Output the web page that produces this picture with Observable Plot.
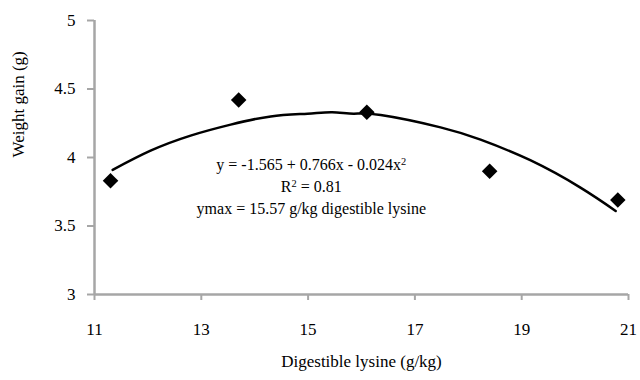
<!DOCTYPE html>
<html lang="en">
<head>
<meta charset="utf-8">
<script src="https://cdn.jsdelivr.net/npm/d3@7"></script>
<script src="https://cdn.jsdelivr.net/npm/@observablehq/plot@0.6"></script>
<style>
  html, body { margin: 0; padding: 0; background: #ffffff; }
</style>
</head>
<body>
<div id="chart"></div>
<script>
// Observed data points
const lysine = [11.3, 13.7, 16.1, 18.4, 20.8];
const weightGain = [3.83, 4.42, 4.33, 3.90, 3.69];

// Trend line
const curveX = [11.34, 12.05, 12.80, 13.55, 14.30, 14.99, 15.45, 15.85, 16.36, 17.48, 18.23, 19.16, 20.10, 20.76];
const curveY = [3.91, 4.05, 4.16, 4.24, 4.30, 4.32, 4.33, 4.32, 4.31, 4.22, 4.13, 3.98, 3.78, 3.61];

// Tick labels
const xTicks = [11, 13, 15, 17, 19, 21];
const yTicks = [3, 3.5, 4, 4.5, 5];

// Texts ("^2" is drawn as a superscript 2)
const xTitle = "Digestible lysine (g/kg)";
const yTitle = "Weight gain (g)";
const annotationLines = [
  "y = -1.565 + 0.766x - 0.024x^2",
  "R^2 = 0.81",
  "ymax = 15.57 g/kg digestible lysine"
];
const annotationAt = {x: 15.06, y: 3.796};

const points = lysine.map((x, i) => ({x, y: weightGain[i]}));
const curve = curveX.map((x, i) => ({x, y: curveY[i]}));

const axisGray = "#a6a6a6";

const svg = Plot.plot({
  width: 640,
  height: 380,
  marginLeft: 94,
  marginRight: 12,
  marginTop: 20,
  marginBottom: 86,
  style: {fontFamily: "Liberation Serif", fontSize: "17px"},
  x: {domain: [11, 21]},
  y: {domain: [3, 5]},
  marks: [
    Plot.axisX({ticks: xTicks, tickSize: 6, tickPadding: 22, stroke: axisGray, strokeWidth: 2, fill: "#000", label: null, tickFormat: d => String(d)}),
    Plot.axisY({ticks: yTicks, tickSize: 7, tickPadding: 12, stroke: axisGray, strokeWidth: 2, fill: "#000", label: null, tickFormat: d => String(d)}),
    Plot.ruleX([11], {stroke: axisGray, strokeWidth: 2.5}),
    Plot.ruleY([3], {stroke: axisGray, strokeWidth: 2.5}),
    Plot.line(curve, {x: "x", y: "y", curve: "natural", stroke: "#000", strokeWidth: 2.5}),
    Plot.dot(points, {x: "x", y: "y", symbol: "diamond2", r: 7, fill: "#000", stroke: "none"}),
    Plot.text([annotationLines.join("\n")], {x: () => annotationAt.x, y: () => annotationAt.y, text: d => d, lineHeight: 1.375, fontSize: 16, fill: "#000", textAnchor: "middle"}),
    Plot.text([xTitle], {text: d => d, frameAnchor: "bottom", dy: 72, fill: "#000"}),
    Plot.text([yTitle], {text: d => d, frameAnchor: "left", dx: -76, rotate: -90, fill: "#000"})
  ]
});

// Turn "^2" markers into superscript 2s
const SVGNS = "http://www.w3.org/2000/svg";
svg.querySelectorAll("text, tspan").forEach(el => {
  for (const node of Array.from(el.childNodes)) {
    if (node.nodeType === 3 && node.nodeValue.includes("^2")) {
      const parts = node.nodeValue.split("^2");
      const frag = document.createDocumentFragment();
      parts.forEach((p, i) => {
        if (p) frag.appendChild(document.createTextNode(p));
        if (i < parts.length - 1) {
          const s = document.createElementNS(SVGNS, "tspan");
          s.setAttribute("baseline-shift", "super");
          s.setAttribute("font-size", "0.65em");
          s.textContent = "2";
          frag.appendChild(s);
        }
      });
      node.replaceWith(frag);
    }
  }
});

document.getElementById("chart").appendChild(svg);
</script>
</body>
</html>
